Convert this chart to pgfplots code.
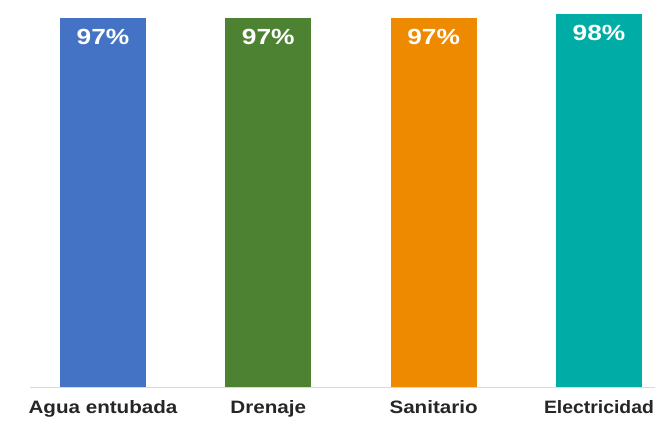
\documentclass[border=0pt]{standalone}
\usepackage{pgfplots}
\pgfplotsset{compat=1.18}
\usepackage{fontspec}
\setmainfont{Liberation Sans}
\newfontfamily\widefont[FakeStretch=1.15]{Liberation Sans}
\newfontfamily\narrowerfont[FakeStretch=1.08]{Liberation Sans}
\newfontfamily\widerfont[FakeStretch=1.2]{Liberation Sans}
\definecolor{cblue}{HTML}{4472C4}
\definecolor{cgreen}{HTML}{4E8233}
\definecolor{corange}{HTML}{EE8A00}
\definecolor{cteal}{HTML}{00ADA6}
\definecolor{axgray}{HTML}{D9D9D9}
\begin{document}
\begin{tikzpicture}[x=1bp,y=1bp]
\useasboundingbox (0,0) rectangle (655,423);
\begin{axis}[
  at={(30bp,36bp)}, anchor=south west,
  scale only axis, width=625bp, height=387bp,
  xmin=-0.4415, xmax=3.339, ymin=0, ymax=101.73,
  axis x line*=bottom, axis y line=none,
  x axis line style={draw=axgray, line width=1bp, -},
  xtick={0,1,2,3}, xticklabels={Agua entubada,Drenaje,Sanitario,{\narrowerfont\bfseries Electricidad}},
  major tick length=0pt,
  xticklabel style={font=\widefont\bfseries\fontsize{18}{20}\selectfont, text=black!85, yshift=-10bp},
  ybar, bar width=86bp, bar shift=0pt,
  /pgf/number format/assume math mode=true,
  nodes near coords={\pgfmathprintnumber{\pgfplotspointmeta}\%},
  every node near coord/.append style={anchor=north, inner sep=0pt, yshift=-11bp, text=white, font=\widerfont\bfseries\fontsize{22}{24}\selectfont},
  clip=false,
]
\addplot[fill=cblue, draw=none] coordinates {(0,97)};
\addplot[fill=cgreen, draw=none] coordinates {(1,97)};
\addplot[fill=corange, draw=none] coordinates {(2,97)};
\addplot[fill=cteal, draw=none] coordinates {(3,98)};
\end{axis}
\end{tikzpicture}
\end{document}
